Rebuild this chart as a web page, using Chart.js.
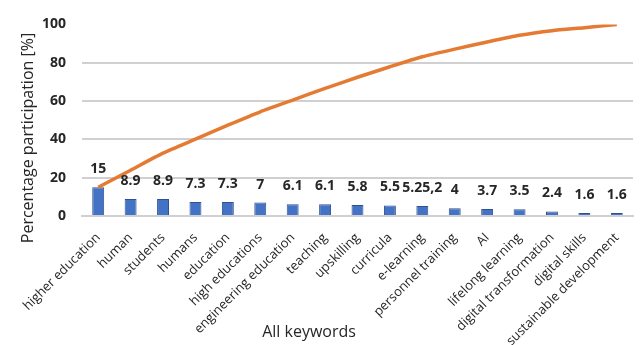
<!DOCTYPE html>
<html>
<head>
<meta charset="utf-8">
<script src="https://cdn.jsdelivr.net/npm/chart.js@4/dist/chart.umd.min.js"></script>
<style>
  html, body { margin: 0; padding: 0; background: #fff; }
  #wrap { width: 640px; height: 345px; }
</style>
</head>
<body>
<div id="wrap"><canvas id="myChart" width="640" height="345"></canvas></div>
<script>
// Dados
const keywords = [
  "higher education", "human", "students", "humans", "education", "high educations",
  "engineering education", "teaching", "upskilling", "curricula", "e-learning",
  "personnel training", "AI", "lifelong learning", "digital transformation",
  "digital skills", "sustainable development"
];
const shares = [15, 8.9, 8.9, 7.3, 7.3, 7, 6.1, 6.1, 5.8, 5.5, 5.2, 4, 3.7, 3.5, 2.4, 1.6, 1.6];
const shareLabels = ["15", "8.9", "8.9", "7.3", "7.3", "7", "6.1", "6.1", "5.8", "5.5", "5.25,2", "4", "3.7", "3.5", "2.4", "1.6", "1.6"];
const cumulative = [15, 23.9, 32.8, 40.1, 47.4, 54.4, 60.5, 66.6, 72.4, 77.9, 83.1, 87.1, 90.8, 94.3, 96.7, 98.3, 100];
const yTicks = [0, 20, 40, 60, 80, 100];
const xTitle = 'All keywords';
const yTitle = 'Percentage participation [%]';

const FONT = "'Open Sans', 'Liberation Sans', sans-serif";
const TEXT = '#262626';

// Rótulos acima das barras + títulos dos eixos (posicionados como no Excel)
const barLabels = {
  id: 'barLabels',
  afterDatasetsDraw(chart) {
    const { ctx } = chart;
    const meta = chart.getDatasetMeta(1);
    ctx.save();
    ctx.font = `bold 14px ${FONT}`;
    ctx.fillStyle = TEXT;
    ctx.textAlign = 'center';
    ctx.textBaseline = 'middle';
    meta.data.forEach((bar, i) => {
      ctx.fillText(shareLabels[i], bar.x, bar.y - 18);
    });
    ctx.font = `16px ${FONT}`;
    ctx.fillText(xTitle, chart.width / 2 - 11, chart.height - 13);
    ctx.translate(28, 138);
    ctx.rotate(-Math.PI / 2);
    ctx.fillText(yTitle, 0, 0);
    ctx.restore();
  }
};

new Chart(document.querySelector('#myChart').getContext('2d'), {
  data: {
    labels: keywords,
    datasets: [
      {
        type: 'line',
        data: cumulative,
        borderColor: '#E57B33',
        borderWidth: 3.5,
        pointRadius: 0,
        tension: 0.2,
        order: 0,
      },
      {
        type: 'bar',
        data: shares,
        backgroundColor: '#4472C4',
        borderColor: '#2F528F',
        borderWidth: 1,
        categoryPercentage: 0.8,
        barPercentage: 0.46,
        order: 1,
      }
    ]
  },
  options: {
    responsive: false,
    animation: false,
    layout: { padding: { top: 19, right: 7, left: 0, bottom: 0 } },
    plugins: {
      legend: { display: false },
      tooltip: { enabled: false },
    },
    scales: {
      x: {
        grid: { display: false },
        border: { color: '#d0d0d0', width: 2 },
        ticks: {
          color: TEXT,
          font: { family: FONT, size: 13 },
          minRotation: 45,
          maxRotation: 45,
          padding: 6,
          autoSkip: false,
        },
        afterFit: scale => { scale.height = 129; },
      },
      y: {
        min: 0,
        max: 100,
        afterBuildTicks: scale => { scale.ticks = yTicks.map(v => ({ value: v })); },
        grid: {
          color: ctx => ctx.tick && ctx.tick.value === 100 ? 'rgba(0,0,0,0)' : '#d0d0d0',
          lineWidth: 2,
          drawTicks: false,
        },
        border: { display: false },
        ticks: {
          color: TEXT,
          font: { family: FONT, size: 14, weight: 'bold' },
          padding: 16,
        },
        afterFit: scale => { scale.width = 82; },
      }
    }
  },
  plugins: [barLabels]
});
</script>
</body>
</html>
